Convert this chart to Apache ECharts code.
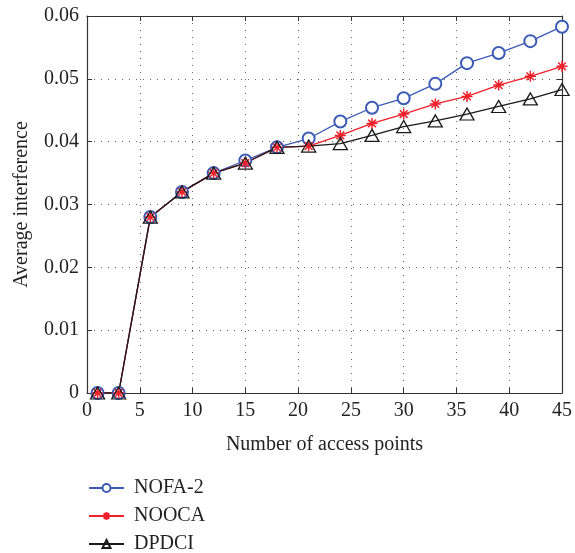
<!DOCTYPE html>
<html><head><meta charset="utf-8">
<script src="https://cdn.jsdelivr.net/npm/echarts@6/dist/echarts.min.js"></script>
<style>html,body{margin:0;padding:0;background:#fff}#c{width:575px;height:553px}</style>
</head><body><div id="c"></div>
<script>
var xValues = [1, 3, 6, 9, 12, 15, 18, 21, 24, 27, 30, 33, 36, 39, 42, 45];
var nofa2 = [0, 0, 0.0280, 0.0320, 0.0350, 0.0370, 0.0391, 0.0405, 0.0432, 0.0454, 0.0469, 0.0492, 0.0525, 0.0541, 0.0560, 0.0583];
var nooca = [0, 0, 0.0280, 0.0320, 0.0350, 0.0366, 0.0391, 0.0393, 0.0410, 0.0429, 0.0444, 0.0460, 0.0472, 0.0490, 0.0504, 0.0520];
var dpdci = [0, 0, 0.0280, 0.0320, 0.0350, 0.0366, 0.0391, 0.0393, 0.0397, 0.0410, 0.0424, 0.0433, 0.0444, 0.0456, 0.0468, 0.0483];
var seriesNames = ['NOFA-2', 'NOOCA', 'DPDCI'];

function pairs(ys) { return xValues.map(function (x, i) { return [x, ys[i]]; }); }

var font = 'Liberation Serif';
var txt = '#231f20';
var star = 'path://M0,-10L0,10M-10,0L10,0M-7,-7L7,7M-7,7L7,-7';
var fs = 20;

var chart = echarts.init(document.getElementById('c'));
var axLine = { show: true, onZero: false, lineStyle: { color: '#333', width: 1.2 } };
var axTick = { show: true, inside: true, length: 5, lineStyle: { color: '#333' } };
var dotted = { show: true, lineStyle: { color: '#666', type: [1, 6], width: 1 } };

function legendAt(name, top) {
  return {
    orient: 'vertical', left: 88, top: top, padding: 0, itemWidth: 35, itemHeight: 10,
    textStyle: { fontFamily: font, fontSize: fs, color: txt, padding: [0, 0, 0, 5] },
    data: [name]
  };
}

chart.setOption({
  animation: false,
  textStyle: { fontFamily: font, color: txt },
  grid: { left: 87, right: 9, top: 16, bottom: 160 },
  legend: [legendAt(seriesNames[0], 478), legendAt(seriesNames[1], 506), legendAt(seriesNames[2], 534)],
  xAxis: [{
    type: 'value', min: 0, max: 45, interval: 5,
    name: 'Number of access points', nameLocation: 'middle', nameGap: 42,
    nameTextStyle: { fontFamily: font, fontSize: fs, color: txt },
    axisLabel: { fontFamily: font, fontSize: fs, color: txt, margin: 8 },
    axisLine: axLine, axisTick: axTick, splitLine: dotted
  }, {
    type: 'value', min: 0, max: 45, interval: 5, position: 'top',
    axisLabel: { show: false }, axisLine: axLine, axisTick: axTick, splitLine: { show: false }
  }],
  yAxis: [{
    type: 'value', min: 0, max: 0.06, interval: 0.01,
    name: 'Average interference', nameLocation: 'middle', nameGap: 55,
    nameTextStyle: { fontFamily: font, fontSize: fs, color: txt },
    axisLabel: { fontFamily: font, fontSize: fs, color: txt, margin: 8 },
    axisLine: axLine, axisTick: axTick, splitLine: dotted
  }, {
    type: 'value', min: 0, max: 0.06, interval: 0.01, position: 'right',
    axisLabel: { show: false }, axisLine: axLine, axisTick: axTick, splitLine: { show: false }
  }],
  series: [{
    name: seriesNames[0], type: 'line', data: pairs(nofa2),
    symbol: 'emptyCircle', symbolSize: 12, showAllSymbol: true,
    lineStyle: { color: '#3b5bb5', width: 1.3 },
    itemStyle: { color: '#3b5bb5', borderColor: '#3b5bb5', borderWidth: 1.3 }
  }, {
    name: seriesNames[1], type: 'line', data: pairs(nooca),
    symbol: star, symbolSize: 11, showAllSymbol: true,
    lineStyle: { color: '#f0202a', width: 1.3 },
    itemStyle: { color: '#f0202a', borderColor: '#f0202a', borderWidth: 1.5 }
  }, {
    name: seriesNames[2], type: 'line', data: pairs(dpdci),
    symbol: 'path://M0,-10L10,7L-10,7Z', symbolSize: [14, 12], showAllSymbol: true,
    lineStyle: { color: '#1a1a1a', width: 1.3 },
    itemStyle: { color: 'rgba(0,0,0,0)', borderColor: '#1a1a1a', borderWidth: 1.3 }
  }]
});
</script>
</body></html>
